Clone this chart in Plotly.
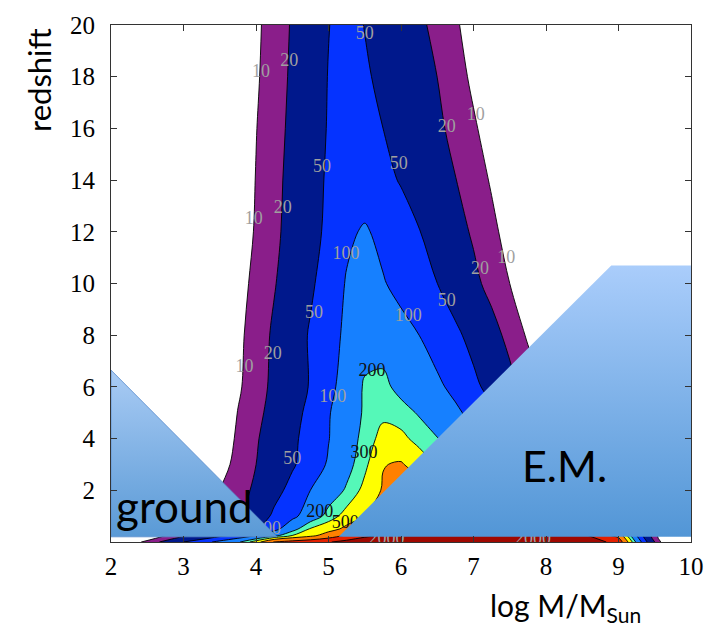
import numpy as np
import plotly.graph_objects as go

# ---------------- data ----------------
log_mass = [2.0, 3.0, 3.5, 3.75, 4.0, 4.25, 4.5, 4.75, 5.0, 5.25, 5.5, 5.75, 6.0,
            6.25, 6.5, 6.75, 7.0, 7.25, 7.5, 7.75, 8.0, 8.5, 9.0, 9.5, 10.0]
redshift = [0.0, 0.25, 0.5, 1, 2, 3, 4, 5, 6, 8, 10, 12, 14, 16, 18, 20]

# log10(SNR), one row per redshift
log_snr = [
    [0.50, 1.70, 2.08, 2.26, 2.59, 3.02, 3.11, 3.19, 3.28, 3.40, 3.50, 3.55, 3.58, 3.60, 3.62, 3.62, 3.62, 3.61, 3.60, 3.58, 3.56, 3.50, 3.20, 1.30, -0.50],
    [0.30, 1.23, 1.62, 1.81, 2.00, 2.23, 2.48, 2.63, 2.82, 3.04, 3.23, 3.33, 3.38, 3.40, 3.42, 3.44, 3.45, 3.44, 3.43, 3.41, 3.40, 3.38, 2.90, 1.10, -0.30],
    [0.00, 1.00, 1.30, 1.50, 1.70, 1.91, 2.21, 2.50, 2.61, 2.76, 3.00, 3.15, 3.30, 3.35, 3.40, 3.43, 3.45, 3.44, 3.42, 3.38, 3.34, 3.15, 2.48, 1.15, 0.30],
    [-0.20, 0.60, 1.11, 1.25, 1.50, 1.76, 1.93, 2.15, 2.38, 2.56, 2.71, 2.89, 3.01, 3.05, 3.09, 3.09, 3.05, 3.02, 2.94, 2.79, 2.65, 2.20, 1.63, 0.85, 0.30],
    [-0.30, 0.45, 1.00, 1.18, 1.36, 1.59, 1.80, 2.00, 2.16, 2.33, 2.54, 2.72, 2.81, 2.81, 2.73, 2.59, 2.42, 2.27, 2.12, 1.97, 1.80, 1.39, 0.85, 0.40, 0.00],
    [-0.35, 0.35, 0.87, 1.10, 1.30, 1.48, 1.66, 1.85, 2.03, 2.22, 2.43, 2.69, 2.72, 2.60, 2.46, 2.35, 2.21, 2.06, 1.91, 1.76, 1.57, 1.10, 0.62, 0.20, -0.20],
    [-0.40, 0.30, 0.80, 1.05, 1.27, 1.46, 1.64, 1.81, 1.99, 2.18, 2.37, 2.55, 2.53, 2.41, 2.31, 2.18, 2.05, 1.91, 1.76, 1.57, 1.35, 0.85, 0.42, 0.05, -0.30],
    [-0.45, 0.25, 0.75, 1.01, 1.22, 1.41, 1.59, 1.78, 1.98, 2.16, 2.33, 2.43, 2.38, 2.28, 2.16, 2.05, 1.92, 1.77, 1.60, 1.39, 1.15, 0.70, 0.30, -0.05, -0.35],
    [-0.50, 0.20, 0.70, 0.95, 1.18, 1.37, 1.55, 1.72, 1.92, 2.12, 2.33, 2.36, 2.23, 2.14, 2.05, 1.93, 1.77, 1.60, 1.40, 1.18, 0.96, 0.55, 0.20, -0.10, -0.40],
    [-0.55, 0.18, 0.68, 0.92, 1.15, 1.35, 1.54, 1.73, 1.90, 2.05, 2.19, 2.19, 2.09, 2.00, 1.88, 1.76, 1.60, 1.42, 1.21, 0.96, 0.75, 0.42, 0.12, -0.15, -0.42],
    [-0.60, 0.12, 0.62, 0.87, 1.09, 1.28, 1.47, 1.65, 1.84, 2.02, 2.12, 2.02, 1.92, 1.81, 1.70, 1.54, 1.38, 1.20, 1.00, 0.82, 0.66, 0.36, 0.08, -0.20, -0.48],
    [-0.60, 0.10, 0.55, 0.82, 1.03, 1.23, 1.42, 1.60, 1.76, 1.95, 2.03, 1.93, 1.82, 1.71, 1.56, 1.42, 1.26, 1.07, 0.89, 0.72, 0.56, 0.26, 0.00, -0.28, -0.55],
    [-0.60, 0.10, 0.53, 0.79, 1.01, 1.21, 1.40, 1.58, 1.74, 1.85, 1.85, 1.77, 1.68, 1.56, 1.43, 1.31, 1.14, 0.97, 0.79, 0.62, 0.46, 0.16, -0.10, -0.38, -0.65],
    [-0.60, 0.10, 0.52, 0.77, 0.99, 1.19, 1.37, 1.55, 1.72, 1.84, 1.79, 1.70, 1.59, 1.47, 1.36, 1.22, 1.04, 0.87, 0.69, 0.52, 0.37, 0.08, -0.18, -0.45, -0.70],
    [-0.60, 0.10, 0.50, 0.74, 0.96, 1.16, 1.35, 1.53, 1.71, 1.83, 1.74, 1.63, 1.52, 1.41, 1.30, 1.12, 0.94, 0.76, 0.58, 0.42, 0.28, 0.00, -0.25, -0.50, -0.75],
    [-0.60, 0.10, 0.50, 0.72, 0.94, 1.14, 1.33, 1.51, 1.69, 1.82, 1.69, 1.58, 1.47, 1.36, 1.22, 1.04, 0.87, 0.69, 0.50, 0.35, 0.20, -0.05, -0.30, -0.55, -0.80],
]

snr_levels = [10, 20, 50, 100, 200, 300, 500, 1000, 2000]

# contour labels (text, log M, redshift, dark text?)
label_text = ["10", "20", "50", "50", "20", "10", "100", "20", "10", "50", "20", "10",
              "50", "100", "50", "20", "10", "100", "50", "100",
              "200", "300", "200", "500", "2000", "2000"]
label_x = [4.07, 4.46, 5.50, 4.91, 4.37, 3.97, 5.24, 6.63, 7.03, 5.97, 7.09, 7.45,
           6.63, 6.10, 4.80, 4.23, 3.84, 5.06, 4.50, 4.16,
           5.60, 5.49, 4.88, 5.23, 5.80, 7.82]
label_y = [18.15, 18.6, 19.65, 14.5, 12.9, 12.46, 11.14, 16.05, 16.5, 14.6, 10.55, 10.95,
           9.3, 8.73, 8.85, 7.27, 6.76, 5.6, 3.2, 0.5,
           6.6, 3.43, 1.16, 0.73, 0.08, 0.08]
label_dark = [False] * 20 + [True, True, True, True, False, False]

# overlay regions (log M, redshift)
ground_x = [2.0, 2.0, 4.29, 2.0]
ground_y = [6.65, 0.2, 0.2, 6.65]
em_x = [5.14, 8.9, 10.0, 10.0, 5.14]
em_y = [0.2, 10.7, 10.7, 0.2, 0.2]

# ---------------- styles ----------------
band_colors = ["#8a1e8a", "#00188c", "#0533ff", "#1680ff", "#55f8b8",
               "#ffff00", "#ff8000", "#e42000", "#a00800"]

fig = go.Figure()
L = np.array(log_snr)
for lev, col in zip(snr_levels, band_colors):
    # plotly shades the region that violates the constraint, so "<" shades z > level
    fig.add_trace(go.Contour(
        x=log_mass, y=redshift, z=L,
        contours=dict(type="constraint", operation="<", value=float(np.log10(lev))),
        fillcolor=col,
        line=dict(color="black", width=0.9, smoothing=1),
        showscale=False, hoverinfo="skip", showlegend=False,
    ))

fig.add_trace(go.Scatter(
    x=label_x, y=label_y, text=label_text, mode="text",
    textfont=dict(family="Liberation Serif", size=18,
                  color=["#111111" if d else "#a0a0a0" for d in label_dark]),
    hoverinfo="skip", showlegend=False,
))

fig.add_trace(go.Scatter(
    x=ground_x, y=ground_y, mode="lines", fill="toself",
    line=dict(color="rgba(90,140,205,0.8)", width=1),
    fillgradient=dict(type="vertical",
                      colorscale=[[0, "#5a9ad6"], [1, "#a9cbf4"]]),
    hoverinfo="skip", showlegend=False,
))
fig.add_trace(go.Scatter(
    x=em_x, y=em_y, mode="lines", fill="toself",
    line=dict(color="rgba(0,0,0,0)", width=0),
    fillgradient=dict(type="vertical",
                      colorscale=[[0, "#5296d6"], [1, "#aacdfb"]]),
    hoverinfo="skip", showlegend=False,
))

W, H = 718, 629
ml, mr, mt, mb = 111, 27, 25, 87
pw, ph = W - ml - mr, H - mt - mb

def px(xp):
    return (xp - ml) / pw

def py(yp):
    return (H - mb - yp) / ph

axis_common = dict(showline=True, linecolor="#333333", linewidth=1, mirror="ticks",
                   ticks="inside", ticklen=6, tickcolor="#333333", showgrid=False,
                   zeroline=False,
                   tickfont=dict(family="Liberation Serif", size=25, color="black"))

fig.update_layout(
    width=W, height=H,
    margin=dict(l=ml, r=mr, t=mt, b=mb),
    paper_bgcolor="white", plot_bgcolor="white",
    xaxis=dict(range=[2, 10], tickvals=list(range(2, 11)), ticklabelstandoff=2,
               **axis_common),
    yaxis=dict(range=[0, 20], tickvals=list(range(2, 21, 2)), ticklabelstandoff=10,
               **axis_common),
    annotations=[
        dict(text="redshift", x=px(39), y=py(80), xref="paper", yref="paper",
             textangle=-90, showarrow=False, xanchor="center", yanchor="middle",
             font=dict(family="Lato", size=31, color="black")),
        dict(text="log M/M<sub>Sun</sub>", x=px(488), y=py(607), xref="paper", yref="paper",
             showarrow=False, xanchor="left", yanchor="middle",
             font=dict(family="Lato", size=30, color="black")),
        dict(text="ground", x=px(114), y=py(506), xref="paper", yref="paper",
             showarrow=False, xanchor="left", yanchor="middle",
             font=dict(family="Lato", size=44, color="black")),
        dict(text="E.M.", x=px(564), y=py(465), xref="paper", yref="paper",
             showarrow=False, xanchor="center", yanchor="middle",
             font=dict(family="Lato", size=43, color="black")),
    ],
)

fig.write_html("out.html", post_script="document.body.style.margin='0';",
               config={"displayModeBar": False})
